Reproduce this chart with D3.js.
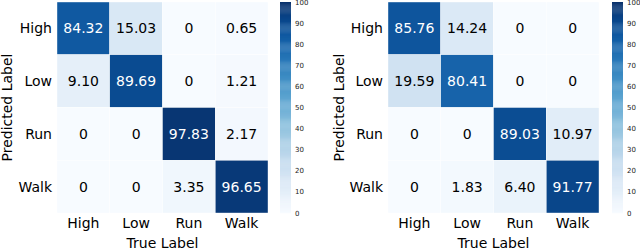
<!DOCTYPE html>
<html>
<head>
<meta charset="utf-8">
<script src="https://cdn.jsdelivr.net/npm/d3@7"></script>
<style>
  body { margin: 0; background: #fff; }
  svg { display: block; font-family: "DejaVu Sans", sans-serif; }
</style>
</head>
<body>
<svg id="chart" width="640" height="250"></svg>
<script>
var classes = ["High", "Low", "Run", "Walk"];
// rows = predicted, cols = true
var leftMatrix = [
  [84.32, 15.03, 0, 0.65],
  [9.10, 89.69, 0, 1.21],
  [0, 0, 97.83, 2.17],
  [0, 0, 3.35, 96.65]
];
var rightMatrix = [
  [85.76, 14.24, 0, 0],
  [19.59, 80.41, 0, 0],
  [0, 0, 89.03, 10.97],
  [0, 1.83, 6.40, 91.77]
];
var cbTicks = [0, 10, 20, 30, 40, 50, 60, 70, 80, 90, 100];

var svg = d3.select("#chart");
var color = d3.scaleSequential(d3.interpolateBlues).domain([0, 100]);

function fmt(v) { return v === 0 ? "0" : v.toFixed(2); }

function drawPanel(matrix, opt) {
  var g = svg.append("g");
  var x = d3.scaleBand().domain(classes).range([opt.x0, opt.x1]);
  var y = d3.scaleBand().domain(classes).range([opt.y0, opt.y1]);

  var cells = [];
  matrix.forEach(function(row, i) {
    row.forEach(function(v, j) { cells.push({r: classes[i], c: classes[j], v: v}); });
  });

  g.selectAll("rect.cell")
    .data(cells)
    .enter()
    .append("rect")
    .attr("class", "cell")
    .attr("x", function(d) { return x(d.c); })
    .attr("y", function(d) { return y(d.r); })
    .attr("width", x.bandwidth())
    .attr("height", y.bandwidth())
    .attr("fill", function(d) { return color(d.v); })
    .attr("stroke", "#fff")
    .attr("stroke-width", 0.4);

  g.selectAll("text.val")
    .data(cells)
    .enter()
    .append("text")
    .attr("class", "val")
    .attr("x", function(d) { return x(d.c) + x.bandwidth() / 2; })
    .attr("y", function(d) { return y(d.r) + y.bandwidth() / 2; })
    .attr("dy", "0.36em")
    .attr("text-anchor", "middle")
    .attr("font-size", 14)
    .attr("fill", function(d) { return d.v > 50 ? "#fff" : "#000"; })
    .text(function(d) { return fmt(d.v); });

  // axis labels
  g.selectAll("text.rowlab")
    .data(classes)
    .enter()
    .append("text")
    .attr("x", opt.x0 - 5)
    .attr("y", function(d) { return y(d) + y.bandwidth() / 2; })
    .attr("dy", "0.36em")
    .attr("text-anchor", "end")
    .attr("font-size", 14)
    .text(function(d) { return d; });

  g.selectAll("text.collab")
    .data(classes)
    .enter()
    .append("text")
    .attr("x", function(d) { return x(d) + x.bandwidth() / 2; })
    .attr("y", opt.y1 + 15)
    .attr("text-anchor", "middle")
    .attr("font-size", 14)
    .text(function(d) { return d; });

  g.append("text")
    .attr("x", (opt.x0 + opt.x1) / 2)
    .attr("y", opt.y1 + 35)
    .attr("text-anchor", "middle")
    .attr("font-size", 14)
    .text("True Label");

  g.append("text")
    .attr("transform", "translate(" + opt.ylabX + "," + ((opt.y0 + opt.y1) / 2) + ") rotate(-90)")
    .attr("text-anchor", "middle")
    .attr("font-size", 14)
    .text("Predicted Label");

  // colorbar
  var cb = d3.scaleLinear().domain([0, 100]).range([opt.y1, opt.y0]);
  var steps = d3.range(0, 100, 0.5);
  g.selectAll("rect.cb")
    .data(steps)
    .enter()
    .append("rect")
    .attr("x", opt.cbX)
    .attr("y", function(d) { return cb(d + 0.5); })
    .attr("width", opt.cbW)
    .attr("height", Math.abs(cb(0) - cb(0.5)) + 0.3)
    .attr("fill", function(d) { return color(d + 0.25); });

  g.selectAll("text.cbt")
    .data(cbTicks)
    .enter()
    .append("text")
    .attr("x", opt.cbX + opt.cbW + 4)
    .attr("y", function(d) { return cb(d); })
    .attr("dy", "0.36em")
    .attr("font-size", 7)
    .attr("fill", "#222")
    .text(function(d) { return d; });
}

drawPanel(leftMatrix, {x0: 57, x1: 268, y0: 2, y1: 213, ylabX: 12, cbX: 280, cbW: 11});
drawPanel(rightMatrix, {x0: 388, x1: 599, y0: 2, y1: 213, ylabX: 344, cbX: 612, cbW: 11});
</script>
</body>
</html>
